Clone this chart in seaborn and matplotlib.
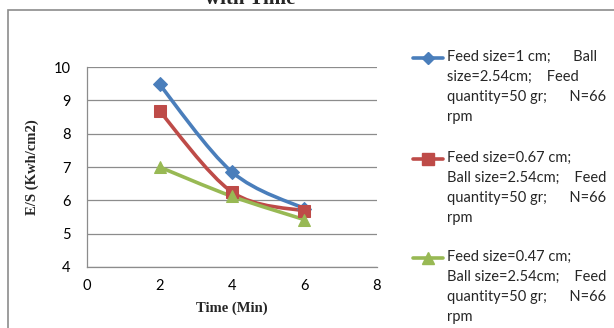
import numpy as np
import pandas as pd
import matplotlib
matplotlib.use('Agg')
import matplotlib.pyplot as plt
from matplotlib.path import Path
from matplotlib.patches import PathPatch, Rectangle
from matplotlib.lines import Line2D
import seaborn as sns

# 数据
time_min = [2, 4, 6]
es_1cm = [9.48, 6.85, 5.75]
es_067cm = [8.68, 6.25, 5.68]
es_047cm = [7.0, 6.12, 5.42]

series_labels = [
    'Feed size=1 cm;      Ball\nsize=2.54cm;    Feed\nquantity=50 gr;      N=66\nrpm',
    'Feed size=0.67 cm;\nBall size=2.54cm;    Feed\nquantity=50 gr;      N=66\nrpm',
    'Feed size=0.47 cm;\nBall size=2.54cm;    Feed\nquantity=50 gr;      N=66\nrpm',
]
colors = ['#4A7EBB', '#BE4B48', '#98B954']
markers = ['D', 's', '^']
msizes = [7, 9, 9]


def smooth_path(xs, ys):
    # Excel 风格平滑线：三次贝塞尔
    pts = np.column_stack([xs, ys]).astype(float)
    verts = [pts[0]]
    codes = [Path.MOVETO]
    n = len(pts)
    for i in range(n - 1):
        p0 = pts[i - 1] if i > 0 else pts[i]
        p1 = pts[i]
        p2 = pts[i + 1]
        p3 = pts[i + 2] if i + 2 < n else pts[i + 1]
        c1 = p1 + (p2 - p0) / 6
        c2 = p2 - (p3 - p1) / 6
        verts += [c1, c2, p2]
        codes += [Path.CURVE4] * 3
    return Path(verts, codes)


df = pd.DataFrame({
    'time': time_min * 3,
    'es': es_1cm + es_067cm + es_047cm,
    'series': sum([[s] * 3 for s in series_labels], []),
})

sns.set_style('white')
fig = plt.figure(figsize=(6.14, 3.28), dpi=100)
ax = fig.add_axes([0.1417, 0.186, 0.4723, 0.6097])

for i, s in enumerate(series_labels):
    sub = df[df['series'] == s]
    ax.add_patch(PathPatch(smooth_path(sub['time'].values, sub['es'].values),
                           facecolor='none', edgecolor=colors[i], lw=2.6, zorder=3))
    sns.lineplot(data=sub, x='time', y='es', ax=ax, color=colors[i], marker=markers[i],
                 markersize=msizes[i], markeredgecolor=colors[i], linewidth=0,
                 legend=False, zorder=4)

ax.set_xlim(0, 8)
ax.set_ylim(4, 10)
ax.set_xticks([0, 2, 4, 6, 8])
ax.set_yticks([4, 5, 6, 7, 8, 9, 10])
ax.grid(axis='y', color='#8c8c8c', lw=0.9)
ax.set_axisbelow(True)
for side in ['top', 'right']:
    ax.spines[side].set_visible(False)
for side in ['left', 'bottom']:
    ax.spines[side].set_color('#8c8c8c')
    ax.spines[side].set_linewidth(0.9)
ax.tick_params(length=0, labelsize=10.5, colors='#000000')
ax.tick_params(axis='y', pad=12)
ax.tick_params(axis='x', pad=9)
for lab in ax.get_xticklabels() + ax.get_yticklabels():
    lab.set_family('Lato')
ax.set_xlabel('Time (Min)', family='Liberation Serif', fontweight='bold', fontsize=10.5, labelpad=6)
ax.set_ylabel('E/S (Kwh/cm2)', family='Liberation Serif', fontweight='bold', fontsize=10.5, labelpad=10)

# 图例（手动绘制，图标对齐第一行）
leg_y = [58, 159, 258]
for i, s in enumerate(series_labels):
    yf = 1 - leg_y[i] / 328
    fig.add_artist(Line2D([413 / 614, 443 / 614], [yf, yf], color=colors[i], lw=2.6,
                          marker=markers[i], markersize=msizes[i], markevery=[],
                          transform=fig.transFigure))
    fig.add_artist(Line2D([428 / 614], [yf], color=colors[i], lw=0, marker=markers[i],
                          markersize=msizes[i] - 1, transform=fig.transFigure))
    fig.text(447 / 614, yf, s, family='Lato', fontsize=10.5, va='top', ha='left',
             linespacing=1.55, transform=fig.transFigure).set_y(yf + 8 / 328)

# 外框与标题（被截断）
fig.add_artist(Rectangle((8 / 614, -0.1), 1.0, 1 - 10 / 328 + 0.1, fill=False,
                         edgecolor='#8c8c8c', lw=1.2, transform=fig.transFigure))
fig.text(250 / 614, 1 - 4 / 328, 'with Time', family='Liberation Serif', fontweight='bold',
         fontsize=15, ha='center', va='baseline')

fig.savefig('out.png', dpi=100)
